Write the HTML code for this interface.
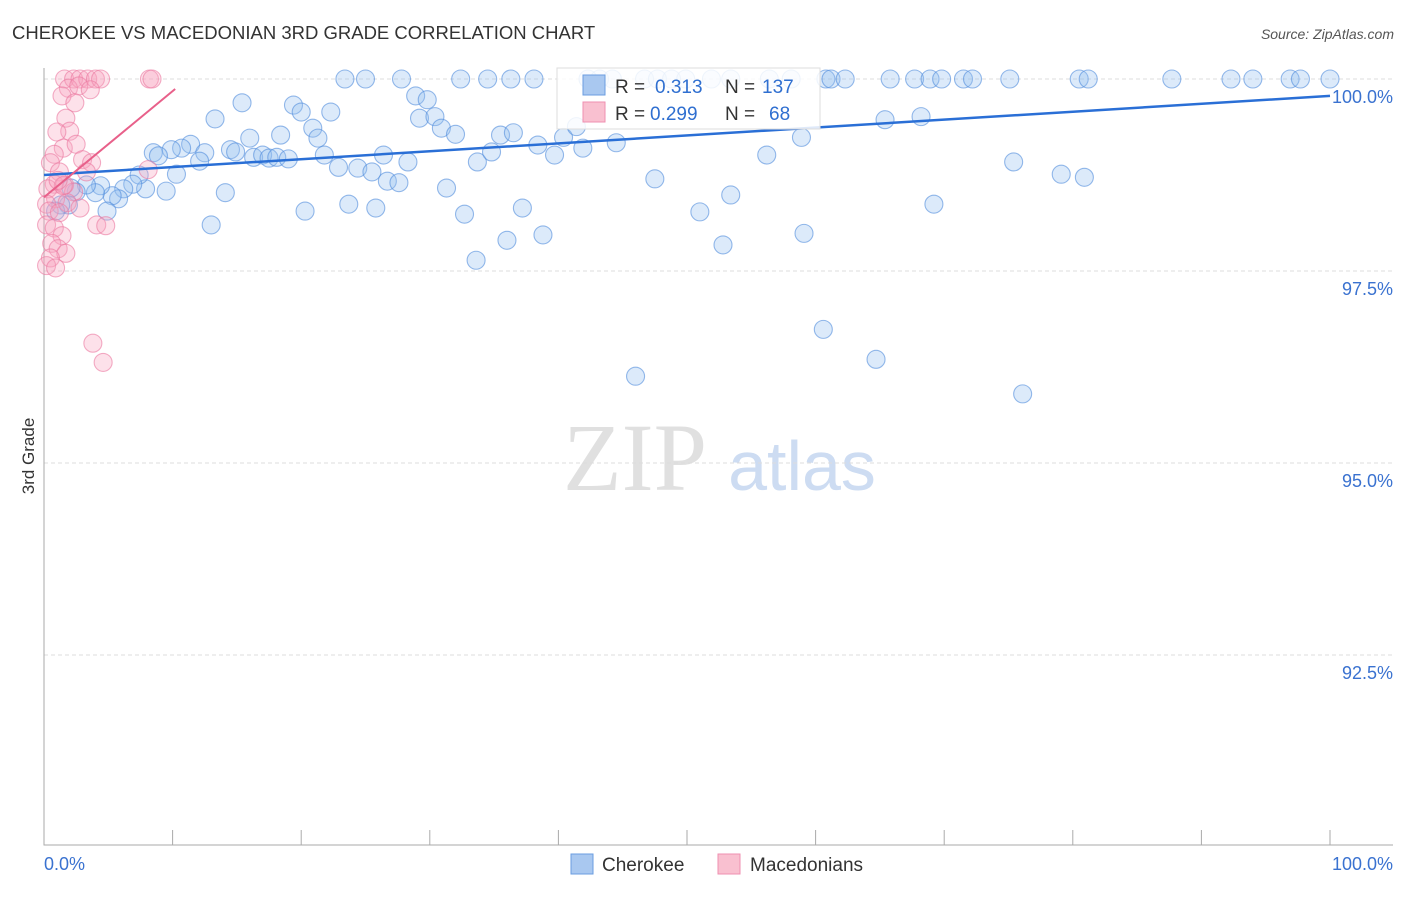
<!DOCTYPE html>
<html><head><meta charset="utf-8"><style>
body{margin:0;background:#fff;font-family:"Liberation Sans",sans-serif}
</style></head><body>
<svg width="1406" height="892" xmlns="http://www.w3.org/2000/svg" font-family="Liberation Sans, sans-serif">
<text x="12" y="39" font-size="18.5" fill="#333">CHEROKEE VS MACEDONIAN 3RD GRADE CORRELATION CHART</text>
<text x="1394" y="39" font-size="14" fill="#555" text-anchor="end" font-style="italic">Source: ZipAtlas.com</text>
<text x="34" y="456" font-size="17" fill="#333" text-anchor="middle" transform="rotate(-90 34 456)">3rd Grade</text>
<g><text x="635" y="490" font-size="96" fill="#e0e0e0" text-anchor="middle" style="font-family:'Liberation Serif',serif">ZIP</text><text x="802" y="490" font-size="70" fill="#cddcf2" text-anchor="middle">atlas</text></g>
<g id="grid"></g><g id="axes"></g><g id="pts"></g><g id="trend"></g>
<g>
<rect x="557" y="68" width="263" height="61" fill="#fff" fill-opacity="0.85" stroke="#ddd"/>
<rect x="583" y="75" width="22" height="20" fill="#a9c8f0" stroke="#6a9de0"/>
<rect x="583" y="102" width="22" height="20" fill="#f9c0d0" stroke="#ef8fb0"/>
<text x="615" y="93" font-size="19" fill="#333">R =</text>
<text x="655" y="93" font-size="19" fill="#2f6fd0">0.313</text>
<text x="725" y="93" font-size="19" fill="#333">N =</text>
<text x="762" y="93" font-size="19" fill="#2f6fd0">137</text>
<text x="615" y="120" font-size="19" fill="#333">R =</text>
<text x="650" y="120" font-size="19" fill="#2f6fd0">0.299</text>
<text x="725" y="120" font-size="19" fill="#333">N =</text>
<text x="769" y="120" font-size="19" fill="#2f6fd0">68</text>
</g>
<g>
<rect x="571" y="854" width="22" height="20" fill="#a9c8f0" stroke="#6a9de0"/>
<text x="602" y="871" font-size="19" fill="#333">Cherokee</text>
<rect x="718" y="854" width="22" height="20" fill="#f9c0d0" stroke="#ef8fb0"/>
<text x="750" y="871" font-size="19" fill="#333">Macedonians</text>
</g>
</svg>
<script>
const yTicks=[100,97.5,95,92.5];
const yTickLabels=["100.0%","97.5%","95.0%","92.5%"];
const xEndLabels=["0.0%","100.0%"];
const blueTopX=[23.4,25.0,27.8,32.4,34.5,36.3,38.1,42.3,43.2,44.2,46.7,47.7,48.8,49.9,51.9,53.4,56.4,58.1,60.8,61.2,62.3,65.8,67.7,68.9,69.8,71.5,72.2,75.1,80.5,81.2,87.7,92.3,94.0,96.9,97.7,100];
const blueX=[15.4,13.3,19.4,20.0,22.3,20.9,21.3,16.0,18.4,11.4,10.7,9.9,8.5,8.9,12.5,14.5,14.9,16.3,17.0,17.5,18.1,19.0,21.8,12.1,10.3,22.9,24.4,25.5,26.4,28.3,26.7,27.6,28.9,29.8,29.2,30.4,30.9,32.0,33.7,34.8,35.5,36.5,38.4,39.7,40.4,41.4,41.9,44.5,31.3,32.7,33.6,36.0,37.2,38.8,20.3,23.7,25.8,14.1,13.0,9.5,7.9,7.4,6.9,6.2,5.8,5.3,4.4,4.0,3.3,2.5,2.1,1.9,1.3,4.9,0.9,46.0,47.5,51.0,52.8,53.4,56.2,58.9,59.1,60.6,64.7,65.4,68.2,69.2,75.4,76.1,79.1,80.9];
const blueY=[99.69,99.48,99.66,99.57,99.57,99.36,99.23,99.23,99.27,99.15,99.10,99.08,99.04,99.00,99.04,99.08,99.05,98.98,99.01,98.97,98.98,98.96,99.01,98.93,98.76,98.85,98.84,98.79,99.01,98.92,98.67,98.65,99.78,99.73,99.49,99.51,99.36,99.28,98.92,99.05,99.27,99.30,99.14,99.01,99.24,99.38,99.10,99.17,98.58,98.24,97.64,97.90,98.32,97.97,98.28,98.37,98.32,98.52,98.10,98.54,98.57,98.75,98.63,98.57,98.44,98.48,98.61,98.52,98.62,98.53,98.58,98.36,98.36,98.28,98.28,96.13,98.70,98.27,97.84,98.49,99.01,99.24,97.99,96.74,96.35,99.47,99.51,98.37,98.92,95.90,98.76,98.72];
const pinkX=[1.6,2.3,2.8,3.4,4.0,4.4,8.2,8.4,1.9,2.7,3.6,1.4,2.4,1.7,2.0,1.0,1.5,2.5,0.8,3.0,3.7,0.5,1.2,3.3,0.8,1.6,0.3,2.3,0.9,0.2,1.8,2.8,0.4,1.2,0.2,0.8,1.4,0.6,1.1,1.7,0.5,0.2,0.9,4.1,4.8,8.1,3.8,4.6,1.5,1.1];
const pinkY=[100,100,100,100,100,100,100,100,99.88,99.91,99.86,99.78,99.69,99.49,99.32,99.31,99.10,99.15,99.02,98.95,98.91,98.91,98.79,98.79,98.63,98.62,98.57,98.53,98.44,98.37,98.39,98.32,98.28,98.26,98.10,98.06,97.96,97.86,97.79,97.73,97.67,97.57,97.54,98.10,98.09,98.82,96.56,96.31,98.61,98.68];
const blueTrend=[[0,98.75],[100,99.78]];
const pinkTrend=[[0,98.46],[10.2,99.87]];
const NS="http://www.w3.org/2000/svg";
const sx=v=>44+v*12.86, sy=v=>79+(100-v)*76.8;
function mk(t,a,p){const e=document.createElementNS(NS,t);for(const k in a)e.setAttribute(k,a[k]);document.getElementById(p).appendChild(e);return e;}
yTicks.forEach((t,i)=>{const g=mk('line',{x1:44,x2:1393,y1:sy(t),y2:sy(t),stroke:'#ddd','stroke-dasharray':'4,3'},'grid');


const l=mk('text',{x:1393,y:sy(t)+24,'font-size':18,fill:'#3a72d0','text-anchor':'end'},'grid');l.textContent=yTickLabels[i];

});
const ax=mk('path',{d:'M44,68V845H1393',stroke:'#aaa',fill:'none'},'axes');


for(let i=0;i<=10;i++){const t=mk('line',{x1:sx(i*10),x2:sx(i*10),y1:830,y2:845,stroke:'#aaa'},'axes');

}
[[44,'start',0],[1393,'end',1]].forEach(([x,a,i])=>{const l=mk('text',{x:x,y:870,'font-size':18,fill:'#3a72d0','text-anchor':a},'axes');l.textContent=xEndLabels[i];

});
function dot(x,y,c){const e=mk('circle',{cx:sx(x),cy:sy(y),r:9,fill:c?'rgba(150,190,240,0.33)':'rgba(248,165,190,0.33)',stroke:c?'rgba(80,140,220,0.6)':'rgba(235,120,160,0.6)','stroke-width':1.1},'pts');

}
blueTopX.forEach(x=>dot(x,100,1));
blueX.forEach((x,i)=>dot(x,blueY[i],1));
pinkX.forEach((x,i)=>dot(x,pinkY[i],0));
const bl=mk('line',{x1:sx(blueTrend[0][0]),y1:sy(blueTrend[0][1]),x2:sx(blueTrend[1][0]),y2:sy(blueTrend[1][1]),stroke:'#2a6fd6','stroke-width':2.5},'trend');


const pl=mk('line',{x1:sx(pinkTrend[0][0]),y1:sy(pinkTrend[0][1]),x2:sx(pinkTrend[1][0]),y2:sy(pinkTrend[1][1]),stroke:'#e8608a','stroke-width':2},'trend');


</script>
</body></html>
